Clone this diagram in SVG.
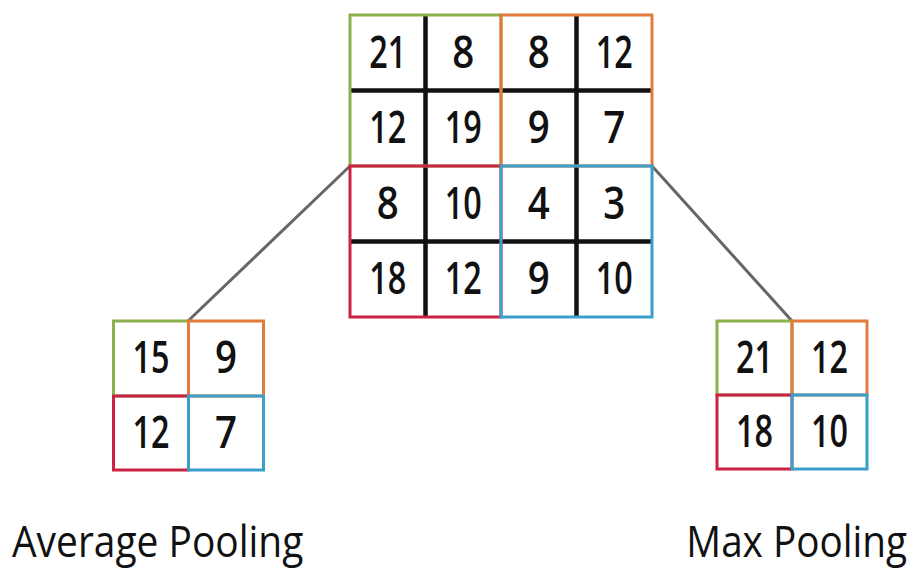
<svg xmlns="http://www.w3.org/2000/svg" width="920" height="575" viewBox="0 0 920 575">
<style>
.num{font-family:"Open Sans","Liberation Sans",sans-serif;font-size:46px;font-weight:600;fill:#111;text-anchor:middle}
.lbl{font-family:"Open Sans","Liberation Sans",sans-serif;font-size:43px;font-weight:500;fill:#111}
.grid{stroke:#111;stroke-width:4.5;fill:none}
.g{stroke:#8cb04e;stroke-width:3;fill:none}
.o{stroke:#e07b3c;stroke-width:3;fill:none}
.r{stroke:#cc2344;stroke-width:3;fill:none}
.b{stroke:#3a9fcb;stroke-width:3;fill:none}
.conn{stroke:#666;stroke-width:3;fill:none}
</style>
<rect width="920" height="575" fill="#fff"/>
<g id="connectors">
<line class="conn" x1="350" y1="166" x2="188" y2="321"/>
<line class="conn" x1="652" y1="166" x2="792" y2="321"/>
</g>
<g id="input-grid">
<rect x="350" y="15" width="302" height="302" fill="#fff"/>
<path class="grid" d="M425.5 15V317M576.5 15V317M350 90.5H652M350 241.5H652"/>
<rect class="g" x="350" y="15" width="151" height="151"/>
<rect class="o" x="501" y="15" width="151" height="151"/>
<rect class="r" x="350" y="166" width="151" height="151"/>
<rect class="b" x="501" y="166" width="151" height="151"/>
<text class="num" x="387.75" y="67.5" textLength="37" lengthAdjust="spacingAndGlyphs">21</text>
<text class="num" x="463.25" y="67.5" textLength="22" lengthAdjust="spacingAndGlyphs">8</text>
<text class="num" x="538.75" y="67.5" textLength="22" lengthAdjust="spacingAndGlyphs">8</text>
<text class="num" x="614.25" y="67.5" textLength="37" lengthAdjust="spacingAndGlyphs">12</text>
<text class="num" x="387.75" y="143" textLength="37" lengthAdjust="spacingAndGlyphs">12</text>
<text class="num" x="463.25" y="143" textLength="37" lengthAdjust="spacingAndGlyphs">19</text>
<text class="num" x="538.75" y="143" textLength="22" lengthAdjust="spacingAndGlyphs">9</text>
<text class="num" x="614.25" y="143" textLength="22" lengthAdjust="spacingAndGlyphs">7</text>
<text class="num" x="387.75" y="218.5" textLength="22" lengthAdjust="spacingAndGlyphs">8</text>
<text class="num" x="463.25" y="218.5" textLength="37" lengthAdjust="spacingAndGlyphs">10</text>
<text class="num" x="538.75" y="218.5" textLength="22" lengthAdjust="spacingAndGlyphs">4</text>
<text class="num" x="614.25" y="218.5" textLength="22" lengthAdjust="spacingAndGlyphs">3</text>
<text class="num" x="387.75" y="294" textLength="37" lengthAdjust="spacingAndGlyphs">18</text>
<text class="num" x="463.25" y="294" textLength="37" lengthAdjust="spacingAndGlyphs">12</text>
<text class="num" x="538.75" y="294" textLength="22" lengthAdjust="spacingAndGlyphs">9</text>
<text class="num" x="614.25" y="294" textLength="37" lengthAdjust="spacingAndGlyphs">10</text>
</g>
<g id="average-pooling">
<rect class="g" x="113.5" y="321" width="75" height="75"/>
<rect class="o" x="188.5" y="321" width="75" height="75"/>
<rect class="r" x="113.5" y="396" width="75" height="74"/>
<rect class="b" x="188.5" y="396" width="75" height="74"/>
<text class="num" x="151" y="373" textLength="37" lengthAdjust="spacingAndGlyphs">15</text>
<text class="num" x="226" y="373" textLength="22" lengthAdjust="spacingAndGlyphs">9</text>
<text class="num" x="151" y="448" textLength="37" lengthAdjust="spacingAndGlyphs">12</text>
<text class="num" x="226" y="448" textLength="22" lengthAdjust="spacingAndGlyphs">7</text>
<text class="lbl" transform="translate(12,557) scale(0.905,1)">Average Pooling</text>
</g>
<g id="max-pooling">
<rect class="g" x="717" y="321" width="75" height="74"/>
<rect class="o" x="792" y="321" width="75" height="74"/>
<rect class="r" x="717" y="395" width="75" height="74"/>
<rect class="b" x="792" y="395" width="75" height="74"/>
<text class="num" x="754.5" y="373" textLength="37" lengthAdjust="spacingAndGlyphs">21</text>
<text class="num" x="829.5" y="373" textLength="37" lengthAdjust="spacingAndGlyphs">12</text>
<text class="num" x="754.5" y="447" textLength="37" lengthAdjust="spacingAndGlyphs">18</text>
<text class="num" x="829.5" y="447" textLength="37" lengthAdjust="spacingAndGlyphs">10</text>
<text class="lbl" transform="translate(907,557) scale(0.9,1)" text-anchor="end">Max Pooling</text>
</g>
</svg>
